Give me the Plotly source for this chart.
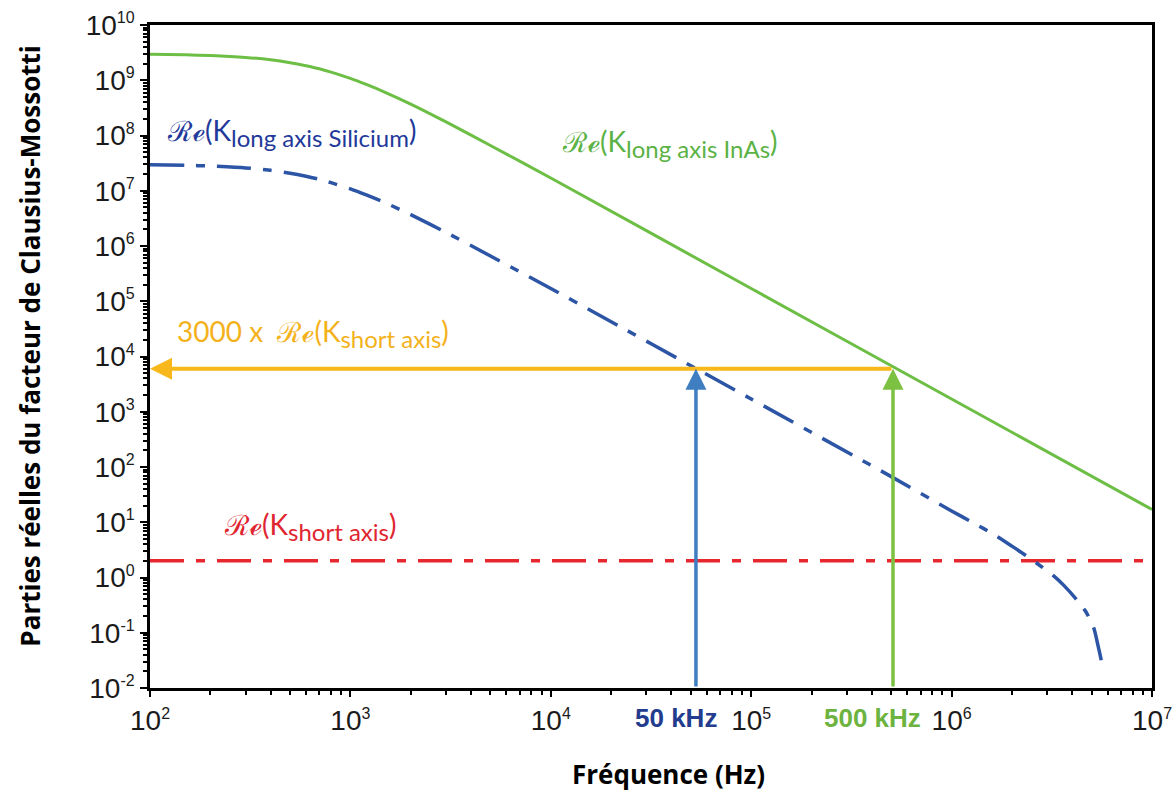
import math
import plotly.graph_objects as go

# ---------------- data ----------------
freq_inas = [100, 150, 200, 300, 400, 500, 600, 700, 800, 1000, 1200, 1500, 2000, 3000, 5000,
             1e4, 1e5, 1e6, 1e7]
k_inas = [2.95e9, 2.88e9, 2.80e9, 2.59e9, 2.34e9, 2.08e9, 1.83e9, 1.61e9, 1.40e9, 1.08e9,
          8.4e8, 6.0e8, 3.7e8, 1.76e8, 6.6e7, 1.7e7, 1.7e5, 1.7e3, 17]

freq_si = [100, 150, 200, 300, 400, 500, 600, 700, 800, 1000, 1200, 1500, 2000, 3000, 5000,
           1e4, 1e5, 5e5, 1e6, 1.3e6, 1.63e6, 2e6, 2.35e6, 2.79e6, 3.2e6, 3.63e6, 4.2e6,
           4.68e6, 5.13e6, 5.37e6, 5.55e6, 5.69e6]
k_si = [2.95e7, 2.88e7, 2.80e7, 2.59e7, 2.34e7, 2.08e7, 1.83e7, 1.61e7, 1.40e7, 1.08e7,
        8.4e6, 6.0e6, 3.7e6, 1.76e6, 6.6e5, 1.7e5, 1.7e3, 67, 16, 9.5, 6, 3.7, 2.5, 1.6, 1.1,
        0.72, 0.40, 0.24, 0.12, 0.06, 0.035, 0.02]

freq_short = [100, 1e7]
k_short = [2, 2]

factor = 3000
f_si_cross = 5.3e4      # 50 kHz
f_inas_cross = 5.1e5    # 500 kHz
f_min, f_max = 1e2, 1e7
y_min, y_max = 1e-2, 1e10

x_exps = [2, 3, 4, 5, 6, 7]
y_exps = list(range(-2, 11))

# ---------------- colours ----------------
c_green = "#6DBE45"
c_blue = "#2D55A5"
c_red = "#E8262E"
c_yellow = "#F8B81B"
c_arrow_blue = "#3E7EC1"
c_arrow_green = "#7DC143"

fig = go.Figure()
fig.add_trace(go.Scatter(x=freq_short, y=k_short, mode="lines",
                         line=dict(color=c_red, width=3.5, dash="34px,12px,9px,12px"),
                         showlegend=False))
fig.add_trace(go.Scatter(x=freq_si, y=k_si, mode="lines",
                         line=dict(color=c_blue, width=3.5, dash="34px,12px,9px,12px",
                                   shape="spline", smoothing=0.6),
                         showlegend=False))
fig.add_trace(go.Scatter(x=freq_inas, y=k_inas, mode="lines",
                         line=dict(color=c_green, width=3, shape="spline", smoothing=0.6),
                         showlegend=False))

lv = math.log10
level = factor * k_short[0]

ann = []
ann.append(dict(x=lv(f_min), y=lv(level), ax=lv(f_inas_cross), ay=lv(level),
                xref="x", yref="y", axref="x", ayref="y", text="", showarrow=True,
                arrowhead=2, arrowsize=1.1, arrowwidth=4, arrowcolor=c_yellow))
ann.append(dict(x=lv(f_si_cross), y=lv(level), ax=lv(f_si_cross), ay=lv(y_min),
                xref="x", yref="y", axref="x", ayref="y", text="", showarrow=True,
                arrowhead=2, arrowsize=1.2, arrowwidth=3.5, arrowcolor=c_arrow_blue))
ann.append(dict(x=lv(f_inas_cross), y=lv(level), ax=lv(f_inas_cross), ay=lv(y_min),
                xref="x", yref="y", axref="x", ayref="y", text="", showarrow=True,
                arrowhead=2, arrowsize=1.2, arrowwidth=3.5, arrowcolor=c_arrow_green))

lab_font = "Lato, Open Sans, sans-serif"


def label(main, sub, color, x, y):
    txt = (main + "(K<sub><span style='font-size:24px'>" + sub + "</span></sub>)")
    return dict(x=x, y=y, xref="x", yref="y", xanchor="left", yanchor="middle",
                showarrow=False, text=txt, font=dict(family=lab_font, size=28, color=color))


ann.append(label("ℛℯ", "long axis Silicium", "#23399A", 2.075, 8.05))
ann.append(label("ℛℯ", "long axis InAs", "#5BB245", 4.048, 7.86))
ann.append(label("3000 x  ℛℯ", "short axis", "#F3B21B", 2.125, 4.41))
ann.append(label("ℛℯ", "short axis", "#E02530", 2.36, 0.92))

ann.append(dict(x=4.837, y=-0.046, xref="x", yref="paper", xanchor="right", yanchor="middle",
                showarrow=False, text="<b>50 kHz</b>",
                font=dict(family="Liberation Sans, Arial", size=26, color="#233C8E")))
ann.append(dict(x=5.856, y=-0.046, xref="x", yref="paper", xanchor="right", yanchor="middle",
                showarrow=False, text="<b>500 kHz</b>",
                font=dict(family="Liberation Sans, Arial", size=26, color="#6DB33F")))

# axis titles
title_font = dict(family="Open Sans, sans-serif", size=26, color="black")
ann.append(dict(x=0.5175, y=-0.130, xref="paper", yref="paper", xanchor="center",
                yanchor="middle", showarrow=False, text="<b>Fréquence (Hz)</b>",
                font=title_font))
ann.append(dict(x=-0.12, y=0.516, xref="paper", yref="paper", xanchor="center",
                yanchor="middle", showarrow=False, textangle=-90,
                text="<b>Parties réelles du facteur de Clausius-Mossotti</b>",
                font=title_font))

tick_font = dict(family="Liberation Sans, Arial", size=28, color="#1a1a1a")


def tick_text(e):
    return "10<sup><span style='font-size:16px'>%d</span></sup>" % e


fig.update_layout(
    width=1173, height=791,
    margin=dict(l=150, r=21, t=25, b=103),
    paper_bgcolor="white", plot_bgcolor="white",
    annotations=ann,
    xaxis=dict(type="log", range=[lv(f_min), lv(f_max)], automargin=False,
               tickmode="array", tickvals=[10 ** e for e in x_exps],
               ticktext=[tick_text(e) for e in x_exps],
               showgrid=False, zeroline=False, showline=True, linecolor="black", linewidth=2.5,
               mirror=True, ticks="outside", ticklen=6, tickwidth=2, tickcolor="black",
               tickfont=tick_font,
               minor=dict(ticks="outside", ticklen=4, tickwidth=2, tickcolor="black",
                          dtick="D1", showgrid=False)),
    yaxis=dict(type="log", range=[lv(y_min), lv(y_max)], automargin=False,
               tickmode="array", tickvals=[10.0 ** e for e in y_exps],
               ticktext=[tick_text(e) for e in y_exps],
               showgrid=False, zeroline=False, showline=True, linecolor="black", linewidth=2.5,
               mirror=True, ticks="outside", ticklen=7, tickwidth=2, tickcolor="black",
               tickfont=tick_font,
               minor=dict(ticks="outside", ticklen=4, tickwidth=1.5, tickcolor="black",
                          dtick="D1", showgrid=False)),
)

fig.write_html("out.html", config={"displayModeBar": False},
               post_script="document.body.style.margin='0px';")
